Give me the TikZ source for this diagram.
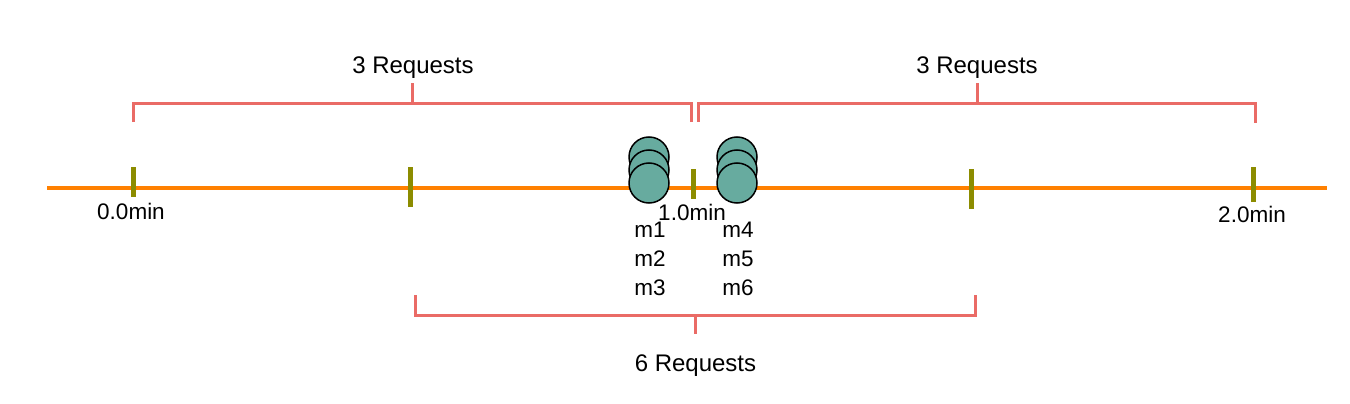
\documentclass[tikz,border=0pt]{standalone}
\usepackage{fontspec}
\setmainfont{Liberation Sans}
\definecolor{brk}{HTML}{EA6B66}
\definecolor{axisc}{HTML}{FF8000}
\definecolor{tickc}{HTML}{8C8C00}
\definecolor{msgc}{HTML}{67AB9F}
\begin{document}
\begin{tikzpicture}[x=1pt,y=-1pt,
  tickbox/.style={rectangle,fill=tickc,draw=none,inner sep=0pt,minimum width=5pt},
  msgdot/.style={circle,fill=msgc,draw=black,line width=1.5pt,minimum size=40pt,inner sep=0pt},
  bracket/.style={draw=brk,line width=3pt},
  axisline/.style={draw=axisc,line width=3.5pt},
  lbl/.style={anchor=base,inner sep=0pt,font=\fontsize{22.5}{26}\selectfont},
  reqlbl/.style={anchor=base,inner sep=0pt,font=\fontsize{24}{28}\selectfont}]
\useasboundingbox (0,0) rectangle (1350,404);
% axis
\coordinate (axL) at (47,188);
\coordinate (axR) at (1327,188);
\draw[axisline] (axL) -- (axR);
% ticks
\node[tickbox,minimum height=30pt] (t0) at (133,182) {};
\node[tickbox,minimum height=40pt] (t1) at (410,187) {};
\node[tickbox,minimum height=30pt] (t2) at (693,184) {};
\node[tickbox,minimum height=40pt] (t3) at (971,189) {};
\node[tickbox,minimum height=35pt] (t4) at (1253,184.5) {};
% tick labels
\node[lbl] (l0) at (131,219) {0.0min};
\node[lbl] (l1) at (692,220) {1.0min};
\node[lbl] (l2) at (1252,222.5) {2.0min};
% messages
\node[msgdot] (c1a) at (649,157) {};
\node[msgdot] (c1b) at (649,170) {};
\node[msgdot] (c1c) at (649,183) {};
\node[msgdot] (c2a) at (737,157) {};
\node[msgdot] (c2b) at (737,170) {};
\node[msgdot] (c2c) at (737,183) {};
\node[lbl] (m1) at (650,237.5) {m1};
\node[lbl] (m2) at (650,266.5) {m2};
\node[lbl] (m3) at (650,295) {m3};
\node[lbl] (m4) at (738,237.5) {m4};
\node[lbl] (m5) at (738,266.5) {m5};
\node[lbl] (m6) at (738,295) {m6};
% top-left bracket
\coordinate (a1) at (133,122);
\coordinate (a2) at (133,103);
\coordinate (a3) at (691,103);
\coordinate (a4) at (691,122);
\coordinate (as1) at (412,103);
\coordinate (as2) at (412,83);
\draw[bracket] (a1) -- (a2) -- (a3) -- (a4);
\draw[bracket] (as1) -- (as2);
\node[reqlbl] (r1) at (413,73.3) {3 Requests};
% top-right bracket
\coordinate (b1) at (698,122);
\coordinate (b2) at (698,103);
\coordinate (b3) at (1255,103);
\coordinate (b4) at (1255,123);
\coordinate (bs1) at (977,103);
\coordinate (bs2) at (977,83);
\draw[bracket] (b1) -- (b2) -- (b3) -- (b4);
\draw[bracket] (bs1) -- (bs2);
\node[reqlbl] (r2) at (977,73.3) {3 Requests};
% bottom bracket
\coordinate (d1) at (415,295);
\coordinate (d2) at (415,315);
\coordinate (d3) at (975,315);
\coordinate (d4) at (975,295);
\coordinate (ds1) at (695,315);
\coordinate (ds2) at (695,334);
\draw[bracket] (d1) -- (d2) -- (d3) -- (d4);
\draw[bracket] (ds1) -- (ds2);
\node[reqlbl] (r3) at (695.5,371) {6 Requests};
\end{tikzpicture}
\end{document}
